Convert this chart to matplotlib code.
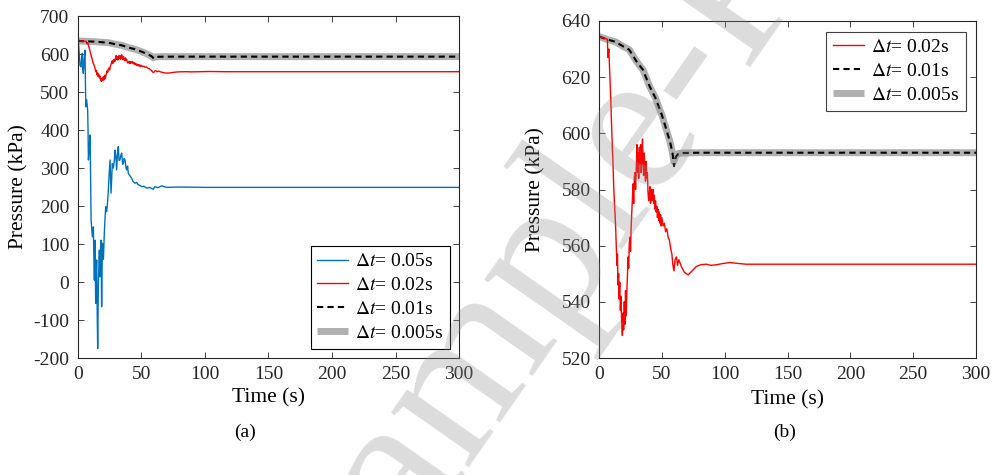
import numpy as np
import matplotlib
matplotlib.use("Agg")
import matplotlib.pyplot as plt

plt.rcParams["font.family"] = ["Liberation Serif", "DejaVu Serif"]
plt.rcParams["mathtext.fontset"] = "stix"
plt.rcParams["font.size"] = 14
plt.rcParams["axes.unicode_minus"] = False

# ── Data ──────────────────────────────────────────────────────────────────────
# dt = 0.005 s (thick grey) and dt = 0.01 s (black dashed)
t_005 = [0, 6, 13, 19, 24, 30, 35, 40, 45, 50, 53.5, 56.5, 58.5, 59.5, 61, 63, 67, 80, 300]
p_005 = [634.5, 633.5, 632.6, 631.0, 629.8, 625.5, 622.6, 617.0, 612.5, 606.5,
         601.5, 597.0, 593.0, 590.0, 592.0, 592.8, 593.0, 593.1, 593.1]

t_01 = [0, 6, 13, 19, 24, 30, 35, 40, 45, 50, 53.5, 56.5, 58.5, 59.7, 61, 63, 67, 80, 300]
p_01 = [634.5, 633.5, 632.6, 631.0, 629.8, 625.5, 622.6, 617.0, 612.5, 606.5,
        601.5, 597.0, 593.0, 588.3, 591.5, 592.6, 593.0, 593.1, 593.1]

# dt = 0.02 s (red)
t_02 = [0, 6.6, 7.2, 7.8, 8.5, 9.2, 10.0, 10.6, 11.1, 11.7,
        12.3, 12.8, 13.3, 13.8, 14.3, 14.7, 15.1, 15.6, 16.0, 16.5,
        17.0, 17.5, 18.0, 18.6, 19.1, 19.6, 20.1, 20.6, 21.1, 21.6,
        22.1, 22.6, 23.1, 23.6, 24.1, 24.6, 25.1, 25.6, 26.1, 26.6,
        27.1, 27.6, 28.1, 28.6, 29.1, 29.7, 30.2, 30.7, 31.1, 31.6,
        32.1, 32.6, 33.1, 33.6, 34.1, 34.6, 35.0, 35.5, 36.0, 36.5,
        37.0, 37.5, 38.0, 38.5, 39.0, 39.5, 40.0, 40.5, 41.0, 41.5,
        42.0, 42.5, 43.0, 43.5, 44.0, 44.5, 45.0, 45.5, 46.0, 46.5,
        47.0, 47.5, 48.0, 48.5, 49.0, 49.5, 50.0, 51.0, 52.0, 53.0,
        54.0, 55.0, 56.0, 57.0, 58.0, 58.8, 59.7, 60.5, 61.6, 62.5,
        63.5, 65.6, 68, 70.9, 74, 77.5, 81, 85.5, 89, 93.4,
        98, 104, 110, 117, 130, 165, 300]
p_02 = [634.5, 633.5, 627, 630, 622, 614, 603, 595, 590, 581,
        575, 571, 566, 559, 553, 557, 546, 550, 541, 547,
        537, 542, 533, 528, 536, 530, 540, 532, 544, 535,
        543, 549, 556, 552, 561, 563, 558, 567, 572, 577,
        582, 575, 584, 586, 580, 588, 596, 586, 593, 584,
        595, 589, 596, 586, 592, 598, 590, 585, 593, 587,
        583, 590, 584, 586, 579, 576, 578, 581, 575, 580,
        576, 579, 580, 575, 578, 573, 576, 572, 574, 570,
        573, 569, 572, 568, 571, 567, 570, 567, 568, 565,
        566, 563, 562, 559, 557, 553, 551, 555, 556, 553,
        555, 552.5, 550.5, 549.6, 551, 552.6, 553.2, 553.4, 553.0, 553.2,
        553.6, 554.0, 553.7, 553.4, 553.4, 553.4, 553.4]

# dt = 0.05 s (blue, panel a only)
t_05 = [0, 0.5, 1.2, 1.8, 2.6, 3.1, 3.6, 4.0, 4.4, 5.0,
        5.7, 6.0, 6.3, 7.0, 7.8, 8.1, 8.4, 9.0, 9.7, 10.1,
        10.5, 11.0, 11.5, 12.3, 12.7, 13.1, 13.6, 14.1, 14.5, 14.9,
        15.3, 15.7, 16.2, 16.6, 17.0, 17.5, 18.0, 18.3, 18.8, 19.4,
        20.2, 20.9, 21.5, 22.0, 22.8, 23.6, 24.2, 24.6, 25.4, 26.2,
        27.2, 28.0, 28.8, 29.3, 30.0, 30.6, 31.3, 31.9, 32.5, 33.2,
        34.0, 34.6, 35.3, 35.9, 36.5, 37.2, 38.0, 38.5, 39.2, 39.8,
        41.0, 42.4, 43.5, 45.0, 46.3, 47.6, 49.0, 50.3, 52.0, 54.2,
        56.5, 59.4, 60.7, 63, 65.9, 70, 80, 100, 300]
p_05 = [634, 632, 600, 570, 566, 590, 602, 560, 549, 585,
        610, 540, 461, 480, 452, 400, 321, 350, 387, 280,
        163, 140, 119, 145, 60, 5, 110, -56, 20, 58,
        -80, -175, -12, 40, 84, 14, 70, 110, -65, 102,
        60, 128, 170, 198, 185, 216, 250, 277, 321, 234,
        312, 300, 321, 347, 330, 295, 340, 356, 320, 321,
        335, 339, 310, 312, 325, 321, 300, 295, 305, 286,
        280, 273, 265, 260, 262, 256, 254, 251, 252, 247,
        249, 244, 251, 248, 253, 249, 250, 249, 249]

lbl_05 = r"$\Delta t$= 0.05s"
lbl_02 = r"$\Delta t$= 0.02s"
lbl_01 = r"$\Delta t$= 0.01s"
lbl_005 = r"$\Delta t$= 0.005s"

# ── Plot ──────────────────────────────────────────────────────────────────────
W, H = 998, 475
fig = plt.figure(figsize=(W / 100, H / 100), dpi=100)
ax1 = fig.add_axes([0.0779, 0.2463, 0.3821, 0.7200])
ax2 = fig.add_axes([0.6002, 0.2463, 0.3778, 0.7095])


def style(ax, ylim, yticks):
    ax.set_xlim(0, 300)
    ax.set_ylim(*ylim)
    ax.set_xticks(range(0, 301, 50))
    ax.set_yticks(yticks)
    ax.tick_params(direction="in", top=True, right=True, length=4.5,
                   width=0.6, labelsize=14, pad=6, colors="#262626")
    for s in ax.spines.values():
        s.set_linewidth(0.8)
        s.set_color("#262626")


leg_kw = dict(borderaxespad=0, fancybox=False, framealpha=1, fontsize=14,
              handlelength=1.6, handletextpad=0.35, labelspacing=0.32,
              borderpad=0.35)

h005, = ax1.plot(t_005, p_005, color="#b0b0b0", lw=5, solid_capstyle="butt")
h01, = ax1.plot(t_01, p_01, color="k", lw=1.5, ls=(0, (3, 2)))
h02, = ax1.plot(t_02, p_02, color="#ff0000", lw=1.0)
h05, = ax1.plot(t_05, p_05, color="#0072bd", lw=1.0)
style(ax1, (-200, 700), range(-200, 701, 100))
ax1.set_xlabel("Time (s)", fontsize=15.5)
ax1.set_ylabel("Pressure (kPa)", fontsize=15.5)
ax1.xaxis.set_label_coords(0.5, -0.088)
ax1.yaxis.set_label_coords(-0.128, 0.5)
leg1 = ax1.legend([h05, h02, h01, h005], [lbl_05, lbl_02, lbl_01, lbl_005],
                  loc="lower right", bbox_to_anchor=(0.977, 0.027),
                  edgecolor="k", **leg_kw)
leg1.get_frame().set_linewidth(0.8)

g005, = ax2.plot(t_005, p_005, color="#b0b0b0", lw=5, solid_capstyle="butt")
g01, = ax2.plot(t_01, p_01, color="k", lw=1.5, ls=(0, (3, 2)))
g02, = ax2.plot(t_02, p_02, color="#ff0000", lw=1.0)
style(ax2, (520, 640), range(520, 641, 20))
ax2.set_xlabel("Time (s)", fontsize=15.5)
ax2.set_ylabel("Pressure (kPa)", fontsize=15.5)
ax2.xaxis.set_label_coords(0.5, -0.095)
ax2.yaxis.set_label_coords(-0.141, 0.5)
leg2 = ax2.legend([g02, g01, g005], [lbl_02, lbl_01, lbl_005],
                  loc="upper right", bbox_to_anchor=(0.974, 0.968),
                  edgecolor="#404040", **leg_kw)
leg2.get_frame().set_linewidth(0.8)

fig.text(0.2455, 0.0905, "(a)", ha="center", va="center", fontsize=14)
fig.text(0.7866, 0.0905, "(b)", ha="center", va="center", fontsize=14)

# ── watermark: place so the first "e" sits where it does in the reference ──
wm_fs, wm_rot = 150, 55
rend = fig.canvas.get_renderer()
widths = []
for s in ("Sampl", "Sample"):
    tmp = fig.text(0, 0, s, fontsize=wm_fs)
    widths.append(tmp.get_window_extent(rend).width)
    tmp.remove()
em = wm_fs * 100 / 72
along = sum(widths) / 2
ex, ey = 635, H - 128          # centre of the "e", display pixels
a = np.deg2rad(wm_rot)
x0 = ex - along * np.cos(a) + 0.23 * em * np.sin(a)
y0 = ey - along * np.sin(a) - 0.23 * em * np.cos(a)
fig.text(x0 / W, y0 / H, "Sample-Pre-Print", rotation=wm_rot, rotation_mode="anchor",
         ha="left", va="baseline", fontsize=wm_fs, color="#8c8c8c", alpha=0.3,
         zorder=10)

fig.savefig("out.png", dpi=100)
